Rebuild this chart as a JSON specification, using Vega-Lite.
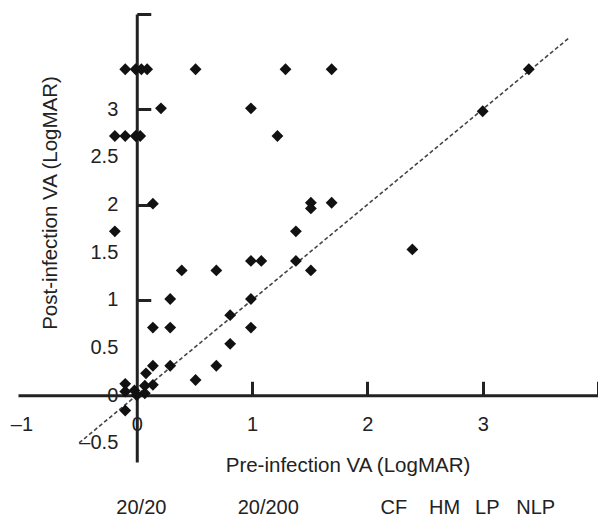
{
  "$schema": "https://vega.github.io/schema/vega-lite/v6.json",
  "width": 580,
  "height": 448,
  "autosize": {"type": "none"},
  "padding": {"left": 18, "top": 14, "right": 0, "bottom": 55},
  "background": "white",
  "config": {
    "view": {"stroke": null},
    "font": "Liberation Sans",
    "axis": {"grid": false}
  },
  "datasets": {
    "identity": [
      {"pre": -0.5, "post": -0.5},
      {"pre": 3.75, "post": 3.75}
    ],
    "patients": [
      {"pre": -0.1, "post": 3.42}, {"pre": -0.01, "post": 3.42}, {"pre": 0.04, "post": 3.42}, {"pre": 0.09, "post": 3.42},
      {"pre": 0.51, "post": 3.42}, {"pre": 1.29, "post": 3.42}, {"pre": 1.69, "post": 3.42}, {"pre": 3.4, "post": 3.42},
      {"pre": 0.21, "post": 3.01}, {"pre": 0.99, "post": 3.01}, {"pre": 3.0, "post": 2.98},
      {"pre": -0.19, "post": 2.72}, {"pre": -0.1, "post": 2.72}, {"pre": -0.01, "post": 2.72}, {"pre": 0.03, "post": 2.72}, {"pre": 1.22, "post": 2.72},
      {"pre": 0.14, "post": 2.01}, {"pre": -0.19, "post": 1.72}, {"pre": 1.38, "post": 1.72},
      {"pre": 1.51, "post": 2.02}, {"pre": 1.51, "post": 1.96}, {"pre": 1.69, "post": 2.02},
      {"pre": 2.39, "post": 1.53},
      {"pre": 0.99, "post": 1.41}, {"pre": 1.08, "post": 1.41}, {"pre": 1.38, "post": 1.41},
      {"pre": 0.39, "post": 1.31}, {"pre": 0.69, "post": 1.31}, {"pre": 1.51, "post": 1.31},
      {"pre": 0.29, "post": 1.01}, {"pre": 0.99, "post": 1.01},
      {"pre": 0.81, "post": 0.84},
      {"pre": 0.14, "post": 0.71}, {"pre": 0.29, "post": 0.71}, {"pre": 0.99, "post": 0.71},
      {"pre": 0.81, "post": 0.54},
      {"pre": 0.14, "post": 0.31}, {"pre": 0.29, "post": 0.31}, {"pre": 0.69, "post": 0.31},
      {"pre": 0.08, "post": 0.23},
      {"pre": 0.51, "post": 0.16},
      {"pre": 0.14, "post": 0.11}, {"pre": 0.07, "post": 0.1},
      {"pre": -0.1, "post": 0.12}, {"pre": -0.1, "post": 0.04}, {"pre": -0.02, "post": 0.05},
      {"pre": 0.07, "post": 0.02}, {"pre": 0.0, "post": 0.0},
      {"pre": -0.1, "post": -0.16}
    ],
    "snellen": [
      {"label": "20/20", "pos": 0.04},
      {"label": "20/200", "pos": 1.14},
      {"label": "CF", "pos": 2.23},
      {"label": "HM", "pos": 2.67},
      {"label": "LP", "pos": 3.04},
      {"label": "NLP", "pos": 3.46}
    ]
  },
  "layer": [
    {
      "data": {"name": "identity"},
      "mark": {"type": "line", "strokeDash": [4, 2.5], "color": "#444444", "strokeWidth": 1.6},
      "encoding": {
        "x": {
          "field": "pre",
          "type": "quantitative",
          "scale": {"domain": [-1.03, 4], "nice": false, "zero": false},
          "axis": {
            "title": "Pre-infection VA (LogMAR)",
            "values": [-1, 0, 1, 2, 3, 4],
            "labelExpr": "datum.value == 4 ? '' : datum.value < 0 ? '–' + (-datum.value) : '' + datum.value",
            "offset": -66.72,
            "domainColor": "#222222",
            "domainWidth": 3,
            "tickColor": "#222222",
            "tickWidth": 3,
            "tickSize": -14,
            "tickOpacity": {"condition": {"test": "datum.value >= 1", "value": 1}, "value": 0},
            "labelPadding": 33,
            "labelFontSize": 20,
            "labelColor": "#222222",
            "labelFlush": false,
            "labelOverlap": false,
            "labelBound": false,
            "titleFontSize": 20.5,
            "titleFontWeight": "normal",
            "titleColor": "#222222",
            "titleX": 329.5,
            "titleY": 76.4,
            "titleBaseline": "alphabetic",
            "titleAlign": "center"
          }
        },
        "y": {
          "field": "post",
          "type": "quantitative",
          "scale": {"domain": [-0.7, 4], "nice": false, "zero": false},
          "axis": {
            "title": "Post-infection VA (LogMAR)",
            "values": [-0.5, 0, 0.5, 1, 1.5, 2, 2.5, 3, 4],
            "labelExpr": "datum.value == 4 ? '' : datum.value < 0 ? '–' + (-datum.value) : '' + datum.value",
            "offset": -118.77,
            "domainColor": "#222222",
            "domainWidth": 3,
            "tickColor": "#222222",
            "tickWidth": 3,
            "tickSize": -14,
            "tickOpacity": {"condition": {"test": "datum.value >= 1 && datum.value % 1 == 0", "value": 1}, "value": 0},
            "labelPadding": 33,
            "labelFontSize": 20,
            "labelColor": "#222222",
            "labelOverlap": false,
            "labelBound": false,
            "labelFlush": false,
            "titleFontSize": 20.5,
            "titleFontWeight": "normal",
            "titleColor": "#222222",
            "titleAngle": -90,
            "titleX": -80,
            "titleY": 188.5,
            "titleBaseline": "alphabetic",
            "titleAlign": "center"
          }
        }
      }
    },
    {
      "data": {"name": "patients"},
      "mark": {"type": "point", "shape": "diamond", "filled": true, "size": 140, "color": "#111111", "opacity": 1},
      "encoding": {
        "x": {"field": "pre", "type": "quantitative"},
        "y": {"field": "post", "type": "quantitative"}
      }
    },
    {
      "data": {"name": "snellen"},
      "mark": {"type": "text", "fontSize": 20, "baseline": "alphabetic", "align": "center", "color": "#222222"},
      "encoding": {
        "x": {"field": "pos", "type": "quantitative"},
        "y": {"datum": -1.245},
        "text": {"field": "label"}
      }
    }
  ]
}
